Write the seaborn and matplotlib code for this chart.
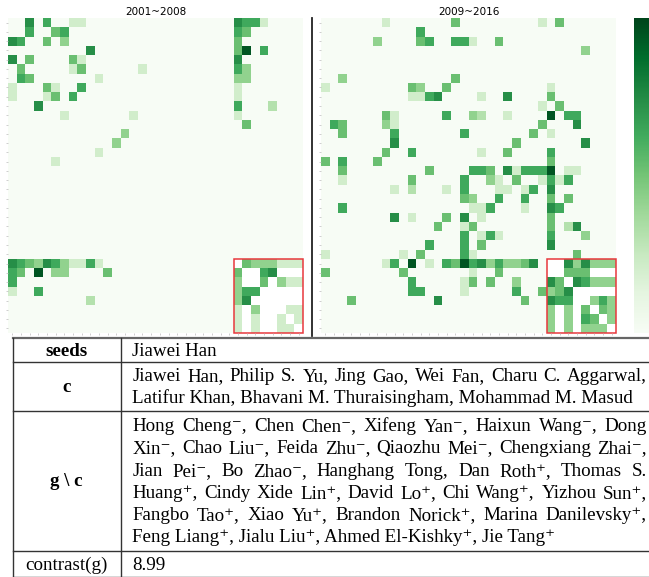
import numpy as np
import matplotlib
matplotlib.use("Agg")
import matplotlib.pyplot as plt
import seaborn as sns
from matplotlib.patches import Rectangle
from matplotlib.lines import Line2D

# cell strength per author pair, '.' = 0 ; 26 authors of g\c then the 8 of c
left_rows = [
    "..7.6..22. .......... ......7662 ....",
    "..6..56... .......... ......65.. ....",
    "76..5.4... .......... ......5... ....",
    ".........7 .......... ......59.6 ....",
    "7.5....52. .......... ......7... ....",
    ".5.....25. .....2.... ......64.. ....",
    ".65....... 2......... ......44.. ....",
    "2...52..6. .......... ......2... ....",
    "2...25.6.. .......... ......2... ....",
    "...7...... .......... ......6... 3...",
    "......2... ....2..... ......2... ....",
    ".......... .......... .......5.. ....",
    ".......... ...4...... .......... ....",
    ".......... ..4....... .......... ....",
    ".......... 2......... .......... ....",
    ".....2.... .......... .......... ....",
    ".......... .......... .......... ....",
    ".......... .......... .......... ....",
    ".......... .......... .......... ....",
    ".......... .......... .......... ....",
    ".......... .......... .......... ....",
    ".......... .......... .......... ....",
    ".......... .......... .......... ....",
    ".......... .......... .......... ....",
    ".......... .......... .......... ....",
    ".......... .......... .......... ....",
    "7654764226 2......... .......544 4222",
    "65.9.44... .5........ ......5..6 7...",
    "6......... .......... ......4..5 .422",
    "2..6...... .......... ......466. ....",
    ".........3 .......... ......47.. ....",
    ".......... .......... ......2.4. ..22",
    ".......... .......... ......2.2. .2.2",
    ".......... .......... ......2.2. .22.",
]

right_rows = [
    ".......2.. .....5.... .....2.5.. ....",
    ".......... .6........ .......... ....",
    "......4... .56..662.. 5......... ....",
    ".......... .......... .......... 4...",
    ".......... .......... .......... ....",
    ".......... .......... .......... ....",
    "..4....... .....5.... .......... ....",
    "2......... 54..5..... ......2... ....",
    ".......... 2267....2. .7....5... ....",
    ".......... .......... .....2.5.. ....",
    ".......52. ....6..43. .2....9.66 ....",
    ".65....42. .......... .....5...7 ....",
    "..5.....6. ......6... ....5.2... ....",
    "........7. .......... ..5....... 7...",
    ".......5.. 6.......2. .5....6... ....",
    "5.6...5... .......... ......5... ....",
    "..5....... ..5....665 .726669.22 ....",
    "..2....... 5.....6..4 2.5..2626. ....",
    "........2. 3...2.6... 22.26.7... ....",
    ".......... ......54.. 6..6..5.5. ....",
    "..6....... .......226 ...2..76.. ....",
    "........7. 2...5.7.2. ......5... ....",
    ".......... ...5..25.. ......5.37 ....",
    ".......... ......6.26 2.....6... 4...",
    ".......... ..6...6.5. ......7... ....",
    "2........2 .5....62.. .........5 ....",
    ".......26. 9.2.659674 64457...74 7444",
    "5........5 .......2.. 5.......55 5...",
    ".......... 6.....25.5 ..4...75.7 6444",
    ".......... 66....2... ..6..5457. ....",
    "...5...... ...7...... ...5..766. .464",
    ".......... .......... ......4.4. 5.54",
    ".......... .......... ......4.4. 65.4",
    ".......... .......... ......4.4. 444.",
]

titles = ["2001~2008", "2009~2016"]
n_c = 8

row_names = ["seeds", "c", "g \\ c", "contrast(g)"]
seeds_txt = ["Jiawei Han"]
c_txt = [
    "Jiawei Han, Philip S. Yu, Jing Gao, Wei Fan, Charu C. Aggarwal,",
    "Latifur Khan, Bhavani M. Thuraisingham, Mohammad M. Masud",
]
gc_txt = [
    "Hong Cheng⁻, Chen Chen⁻, Xifeng Yan⁻, Haixun Wang⁻, Dong",
    "Xin⁻, Chao Liu⁻, Feida Zhu⁻, Qiaozhu Mei⁻, Chengxiang Zhai⁻,",
    "Jian Pei⁻, Bo Zhao⁻, Hanghang Tong, Dan Roth⁺, Thomas S.",
    "Huang⁺, Cindy Xide Lin⁺, David Lo⁺, Chi Wang⁺, Yizhou Sun⁺,",
    "Fangbo Tao⁺, Xiao Yu⁺, Brandon Norick⁺, Marina Danilevsky⁺,",
    "Feng Liang⁺, Jialu Liu⁺, Ahmed El-Kishky⁺, Jie Tang⁺",
]
contrast_txt = ["8.99"]


def to_matrix(rows):
    rows = [r.replace(" ", "") for r in rows]
    m = np.array([[0 if ch == "." else int(ch) for ch in r] for r in rows], float)
    n = len(m)
    blk = m[n - n_c:, n - n_c:]
    blk[blk == 0] = np.nan  # empty cells inside c block are left white
    return m


W, H = 649, 577
fig = plt.figure(figsize=(W / 100, H / 100), dpi=100)
fx = lambda x: x / W
fy = lambda y: 1 - y / H

ax1 = fig.add_axes([fx(8), fy(333), fx(295), 315 / H])
ax2 = fig.add_axes([fx(321), fy(333), fx(295), 315 / H])
cax = fig.add_axes([fx(634), fy(333), 0.04, 315 / H])

for i, (ax, rows) in enumerate([(ax1, left_rows), (ax2, right_rows)]):
    m = to_matrix(rows)
    n = len(m)
    sns.heatmap(m, ax=ax, cmap="Greens", vmin=0, vmax=9.5,
                cbar=(i == 1), cbar_ax=cax if i == 1 else None,
                xticklabels=[""] * n, yticklabels=[""] * n)
    ax.set_facecolor("white")
    ax.tick_params(length=1.5, width=0.5, color="#bbbbbb")
    ax.set_title(titles[i], fontsize=7.5, pad=2)
    ax.add_patch(Rectangle((n - n_c, n - n_c), n_c, n_c, fill=False,
                           edgecolor="#e8383d", lw=1.1, clip_on=False))

cax.tick_params(length=0)
cax.set_yticklabels([])

fig.add_artist(Line2D([fx(311.7)] * 2, [fy(17.5), fy(335.5)], color="#222222", lw=1.3))

# table below the heatmaps
for y, lw, col in [(338, 1.6, "#666666"), (362, 1.0, "#333333"), (411, 1.0, "#333333"),
                   (551, 1.0, "#333333"), (576.5, 1.0, "#333333")]:
    fig.add_artist(Line2D([fx(12.7), fx(660)], [fy(y)] * 2, color=col, lw=lw))
for x in [12.7, 120.7]:
    fig.add_artist(Line2D([fx(x)] * 2, [fy(338), fy(576.5)], color="#333333", lw=1.0))

font = dict(family=["Liberation Serif", "DejaVu Serif"], fontsize=13.7, va="baseline")
renderer = fig.canvas.get_renderer()
x0, x1 = 132.5, 647


def put_line(text, y, justify):
    if not justify:
        fig.text(fx(x0), fy(y), text, ha="left", **font)
        return
    words = text.split(" ")
    arts = [fig.text(0, fy(y), w, ha="left", **font) for w in words]
    widths = [a.get_window_extent(renderer).width for a in arts]
    gap = (x1 - x0 - sum(widths)) / (len(words) - 1)
    x = x0
    for a, w in zip(arts, widths):
        a.set_x(fx(x))
        x += w + gap


label_y = [355.7, 391.7, 486, 570]
for name, y in zip(row_names, label_y):
    fig.text(fx(66.7), fy(y), name, ha="center",
             fontweight="normal" if name.startswith("contrast") else "bold", **font)

put_line(seeds_txt[0], 355.7, False)
for k, line in enumerate(c_txt):
    put_line(line, 380.7 + 22.6 * k, k < len(c_txt) - 1)
for k, line in enumerate(gc_txt):
    put_line(line, 431 + 22.3 * k, k < len(gc_txt) - 1)
put_line(contrast_txt[0], 570, False)

fig.savefig("out.png", dpi=100)
